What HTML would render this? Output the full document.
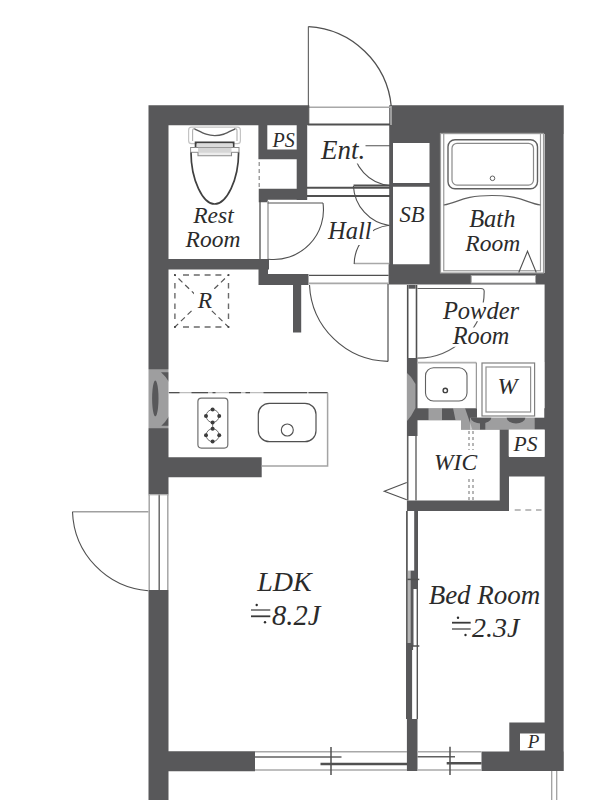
<!DOCTYPE html>
<html><head><meta charset="utf-8">
<style>
html,body{margin:0;padding:0;background:#fff;overflow:hidden}
svg{display:block}
text{font-family:"Liberation Serif",serif;font-style:italic;fill:#2b2b2b}
</style></head><body>
<svg width="600" height="800" viewBox="0 0 600 800">
<!-- ===== WALLS ===== -->
<path id="walls" fill="#58585a" d="M148.5,105.3h20v389h-20zM148.5,590h20v210h-20zM148.5,105.3h159.5v20h-159.5zM390,105.3h173.75v28.7h-173.75zM393,133h47v10h-47zM429.5,133h10.5v151.5h-10.5zM389.2,105.3h3.8v159h-3.8zM393,183h36.5v3.7h-36.5zM544.6,105.3h19v665.7h-19zM481.5,751.5h82.25v19.5h-82.25zM148.5,751.25h106.5v20h-106.5zM509.3,722.5h36v29.5h-36zM258.4,125.3h8.9v34h-8.9zM258.4,149.4h38.3v9.9h-38.3zM296.7,125.3h10.5v74.7h-10.5zM258.75,188.75h48.45v11.05h-48.45zM258.75,199h9v3.3h-9zM168.5,259h100.5v10.5h-100.5zM258.5,259h9.5v26h-9.5zM258.5,274h50v11h-50zM293,285h8.2v47.6h-8.2zM388.6,264.3h51.4v20.2h-51.4zM440,273h105v11.5h-105zM406.9,358.1h10.6v78h-10.6zM406.9,500.5h10.6v10.5h-10.6zM406.9,719h10.6v52h-10.6zM417,408.3h128v12h-128zM461,417.7h84v12h-84zM499.7,417.7h9.3v93.3h-9.3zM406.9,500.5h102.1v10.5h-102.1zM509,456.9h36v19.6h-36zM168.5,457.3h93.2v20h-93.2z"/>

<!-- white cut-outs over walls -->
<g fill="#fff">
  <!-- W area floor under washer -->
  <rect x="477" y="362" width="67.25" height="55.7"/>
  <!-- P box -->
  <rect x="520" y="733.5" width="24.8" height="17"/>
  <!-- PS right box -->
  <rect x="508.7" y="429.6" width="35.9" height="26.8"/>
</g>

<!-- ===== ENTRANCE DOOR (top) ===== -->
<g fill="none">
  <line x1="308.4" y1="26.6" x2="308.4" y2="107" stroke="#6a6a6a" stroke-width="1.2"/>
  <path d="M308.4,26.7 A88.3,88.3 0 0 1 391.3,106.7" stroke="#505050" stroke-width="1.3"/>
  <line x1="308" y1="107.3" x2="391" y2="107.3" stroke="#a8a8a8" stroke-width="1.6"/>
  <line x1="308" y1="124.6" x2="391" y2="124.6" stroke="#505050" stroke-width="2"/>
  <line x1="308.7" y1="105.3" x2="308.7" y2="125" stroke="#505050" stroke-width="1.2"/>
  <line x1="391" y1="106" x2="391" y2="125" stroke="#b0b0b0" stroke-width="1.6"/>
</g>

<!-- ===== ENT / HALL lines ===== -->
<g fill="none" stroke="#505050">
  <line x1="307" y1="187.7" x2="390" y2="187.7" stroke-width="2"/>
  <line x1="353.5" y1="185.6" x2="390" y2="185.6" stroke-width="2"/>
  <line x1="307" y1="195.9" x2="390" y2="195.9" stroke-width="2"/>
  <!-- SB upper door swing (into Ent) -->
  <line x1="353.1" y1="145.8" x2="390" y2="145.8" stroke-width="1.1"/>
  <path d="M353.1,145.8 A39.9,39.9 0 0 0 389.5,185.5" stroke-width="1.1"/>
  <!-- SB door swing into hall (upper) -->
  <path d="M353.4,186 A42.2,42.2 0 0 0 389.4,225.6" stroke-width="1.1"/>
  <!-- SB door swing into hall (lower) -->
  <line x1="354.2" y1="263.5" x2="389" y2="263.5" stroke="#a8a8a8" stroke-width="1.6"/>
  <path d="M354.2,264 A39.3,39.3 0 0 1 389.4,225.2" stroke-width="1.1"/>
  <!-- Rest room door -->
  <line x1="260" y1="200" x2="260" y2="259" stroke-width="1.3"/>
  <line x1="268" y1="201" x2="268" y2="259" stroke="#a8a8a8" stroke-width="1.6"/>
  <line x1="267.7" y1="203" x2="323" y2="203" stroke-width="1.2"/>
  <path d="M323,203 A49.7,49.7 0 0 1 268.3,259.2" stroke-width="1.1"/>
  <!-- LDK door -->
  <line x1="309" y1="275.3" x2="388.6" y2="275.3" stroke-width="1.3"/>
  <line x1="309" y1="283.4" x2="388.6" y2="283.4" stroke="#a8a8a8" stroke-width="1.8"/>
  <line x1="388" y1="284" x2="388" y2="361.4" stroke-width="1.2"/>
  <path d="M309.5,285 A80.1,80.1 0 0 0 388,361.4" stroke-width="1.1"/>
  <!-- Powder door -->
  <line x1="407.7" y1="285" x2="407.7" y2="358.1" stroke-width="1.6"/>
  <line x1="416.5" y1="285" x2="416.5" y2="358.1" stroke-width="1.6"/>
  <rect x="408.5" y="285" width="7.1" height="3.7" fill="#58585a" stroke="none"/>
  <path d="M417.5,288.5 H481 Q484.2,288.5 484.2,291.5 A66.9,66.9 0 0 1 417.3,358.2" stroke="#606060" stroke-width="1.2"/>
</g>

<!-- ===== STORAGE / SB boxes outline ===== -->

<!-- ===== BATH ===== -->
<g fill="none">
  <rect x="440.5" y="133.5" width="103" height="139.5" stroke="#9a9a9a" stroke-width="1.2"/>
  <rect x="443.75" y="133.5" width="96.75" height="137.25" stroke="#9a9a9a" stroke-width="1.2"/>
  <rect x="448" y="139.7" width="89.5" height="49" rx="7" stroke="#606060" stroke-width="1.4"/>
  <rect x="452" y="143.3" width="81.5" height="41.8" rx="5" stroke="#8a8a8a" stroke-width="1.2"/>
  <circle cx="492.5" cy="178.3" r="2.3" stroke="#606060" stroke-width="1"/>
  <path d="M443.75,205 C458,203 462,195.5 492,195.5 C522,195.5 526,203 540.5,205" stroke="#606060" stroke-width="1.2"/>
  <path d="M518.75,272.5 L527.5,251.25 L536.25,272.5" stroke="#505050" stroke-width="1.1"/>
  <rect x="471.25" y="275.5" width="64.25" height="7.5" fill="#fff" stroke="#a8a8a8" stroke-width="1"/>
</g>

<!-- ===== TOILET ===== -->
<g fill="none">
  <rect x="188.6" y="127.2" width="51.8" height="16.5" rx="3" stroke="#c4c4c4" stroke-width="1.2"/>
  <path d="M192.6,141 V131 Q192.6,128.2 195,128.6 M237,141 V131 Q237,128.2 234.6,128.6" stroke="#b0b0b0" stroke-width="1.1"/>
  <path d="M194.5,128.8 C203,133 207,135.6 214.8,135.6 C222.6,135.6 226.6,133 235.2,128.8" stroke="#5a5a5a" stroke-width="1.4"/>
  <path d="M195.6,147.2 V142.3 H233.6 V147.2" stroke="#404040" stroke-width="1.8"/>
  <rect x="197" y="143.4" width="35.5" height="3.8" fill="#dcdcdc" stroke="none"/>
  <rect x="190.6" y="147.5" width="48.4" height="4.8" fill="#fff" stroke="#8a8a8a" stroke-width="1"/>
  <rect x="198" y="147.8" width="33.5" height="4.4" fill="#d6d6d6" stroke="none"/>
  <path d="M198,152.3 V155.8 H231.5 V152.3" stroke="#8a8a8a" stroke-width="1.1" fill="#ececec"/>
  <path d="M191,152.5 C191,180 203,204 214.6,204 C226.5,204 238.6,180 238.6,152.5" stroke="#404040" stroke-width="1.7"/>
</g>

<!-- dashed rest room extension -->
<line x1="259.2" y1="162" x2="259.2" y2="190" stroke="#888" stroke-width="1.2" stroke-dasharray="4,3"/>

<!-- ===== KITCHEN ===== -->
<g fill="none">
  <!-- R box -->
  <path d="M183.0,275H189.0M183.0,327H189.0M193.8,275H199.8M193.8,327H199.8M204.6,275H210.6M204.6,327H210.6M215.4,275H221.4M215.4,327H221.4M174.9,283.0V288.5M228.5,283.0V288.5M174.9,293.0V298.5M228.5,293.0V298.5M174.9,303.5V309.0M228.5,303.5V309.0M174.9,313.5V319.0M228.5,313.5V319.0" stroke="#6a6a6a" stroke-width="1.4"/>
  <line x1="174.9" y1="275" x2="228.5" y2="327" stroke="#555" stroke-width="1.2" stroke-dasharray="5.5,3.8" stroke-dashoffset="-5"/>
  <line x1="228.5" y1="275" x2="174.9" y2="327" stroke="#555" stroke-width="1.2" stroke-dasharray="5.5,3.8" stroke-dashoffset="-5"/>
  <rect x="194" y="289" width="21" height="21" fill="#fff" stroke="none"/>
  <g fill="#404040" stroke="none"><rect x="174.0" y="274.1" width="1.8" height="1.8"/><rect x="227.6" y="274.1" width="1.8" height="1.8"/><rect x="174.0" y="326.1" width="1.8" height="1.8"/><rect x="227.6" y="326.1" width="1.8" height="1.8"/></g>
  <!-- counter -->
  <line x1="168.5" y1="392.7" x2="327.6" y2="392.7" stroke="#bdbdbd" stroke-width="1.2"/>
  <path d="M168.5,392.7H179.5M191.5,392.7H208M212.5,392.7H215.5M229,392.7H241M245.5,392.7H250M263.5,392.7H307M308.6,392.7H327.6" stroke="#505050" stroke-width="1.2"/>
  <path d="M327.6,392.7 V466 H261.7" stroke="#a4a4a4" stroke-width="1.5"/>
  <!-- IH stove -->
  <rect x="197.9" y="398.2" width="29.9" height="49.9" rx="3.5" stroke="#707070" stroke-width="1.2"/>
  <circle cx="212.6" cy="416" r="6.4" stroke="#707070" stroke-width="1"/>
  <circle cx="212.6" cy="435.2" r="6.4" stroke="#707070" stroke-width="1"/>
  <line x1="212.6" y1="422" x2="212.6" y2="429" stroke="#909090" stroke-width="1.2"/>
  <!-- sink -->
  <rect x="258.3" y="403.3" width="57.7" height="38.4" rx="11" stroke="#505050" stroke-width="1.2"/>
  <circle cx="287.3" cy="430" r="6" stroke="#505050" stroke-width="1.1"/>
</g>
<g fill="#3c3c3c"><circle cx="212.6" cy="409.6" r="2"/><circle cx="212.6" cy="422.4" r="2"/><circle cx="206.0" cy="416.0" r="2"/><circle cx="219.2" cy="416.0" r="2"/><circle cx="212.6" cy="428.8" r="2"/><circle cx="212.6" cy="441.6" r="2"/><circle cx="206.0" cy="435.2" r="2"/><circle cx="219.2" cy="435.2" r="2"/></g>

<!-- ===== LEFT DOOR ===== -->
<g fill="none">
  <line x1="149.2" y1="494.3" x2="149.2" y2="590" stroke="#a0a0a0" stroke-width="1.4"/>
  <line x1="167.8" y1="494.3" x2="167.8" y2="590" stroke="#a0a0a0" stroke-width="1.4"/>
  <line x1="159.2" y1="494.3" x2="159.2" y2="590" stroke="#606060" stroke-width="1.4"/>
  <line x1="148.5" y1="494.8" x2="168.5" y2="494.8" stroke="#a0a0a0" stroke-width="1"/>
  <line x1="72.5" y1="511.7" x2="148.5" y2="511.7" stroke="#a0a0a0" stroke-width="1.4"/>
  <path d="M72.5,511.7 A82,82 0 0 0 148.2,590.7" stroke="#505050" stroke-width="1.1"/>
</g>

<!-- ===== POWDER ROOM fixtures ===== -->
<g fill="none">
  <line x1="417.5" y1="362.6" x2="476.3" y2="362.6" stroke="#b0b0b0" stroke-width="1.8"/>
  <line x1="476.3" y1="362.6" x2="476.3" y2="408.3" stroke="#808080" stroke-width="1"/>
  <rect x="425.5" y="367.75" width="41.5" height="33.25" rx="8" stroke="#606060" stroke-width="1.1"/>
  <circle cx="445.3" cy="390.4" r="2.2" stroke="#404040" stroke-width="1.4"/>
  <!-- W -->
  <rect x="482" y="363" width="52.6" height="53" stroke="#808080" stroke-width="1.2"/>
  <rect x="486" y="367" width="44.6" height="45" stroke="#909090" stroke-width="1.2"/>
</g>

<!-- ===== WIC ===== -->
<g fill="none">
  <line x1="407.7" y1="436" x2="407.7" y2="500.5" stroke="#606060" stroke-width="1.6"/>
  <line x1="416" y1="436" x2="416" y2="500.5" stroke="#606060" stroke-width="1.4"/>
  <path d="M406.75,482.5 L384.25,491.2 L406.75,499.7" stroke="#505050" stroke-width="1.1"/>
  <line x1="469" y1="431" x2="469" y2="500" stroke="#909090" stroke-width="1.3" stroke-dasharray="3,3"/>
  <line x1="473" y1="431" x2="473" y2="500" stroke="#909090" stroke-width="1.3" stroke-dasharray="3,3"/>
  <path d="M514.7,510H520.7M525.3,510H531.3M536,510H541.5" stroke="#a8a8a8" stroke-width="1.6"/>
</g>

<!-- ===== SLIDING DOORS LDK / BED ===== -->
<g fill="none">
  <rect x="407.9" y="570.6" width="2.6" height="75.4" fill="#b4b4b4" stroke="none"/>
  <line x1="406.9" y1="511" x2="406.9" y2="719" stroke="#555" stroke-width="1.7"/>
  <line x1="417.3" y1="511" x2="417.3" y2="719" stroke="#555" stroke-width="1.4"/>
  <rect x="414.2" y="511" width="3.2" height="78" fill="#58585a" stroke="none"/>
  <rect x="410.5" y="570.6" width="6.4" height="18.4" fill="#58585a" stroke="none"/>
  <rect x="410.5" y="589" width="3" height="57" fill="#58585a" stroke="none"/>
  <rect x="406.1" y="643" width="7" height="7" fill="#58585a" stroke="none"/>
  <rect x="406.1" y="650" width="6" height="69" fill="#58585a" stroke="none"/>
  <line x1="407.4" y1="579.4" x2="419.3" y2="579.4" stroke="#505050" stroke-width="1.5"/>
  <line x1="411" y1="646" x2="419.3" y2="646" stroke="#505050" stroke-width="1.5"/>
</g>

<!-- ===== WINDOWS ===== -->
<g fill="none">
  <line x1="255" y1="751.8" x2="407" y2="751.8" stroke="#a8a8a8" stroke-width="1.4"/>
  <line x1="255" y1="770" x2="407" y2="770" stroke="#a8a8a8" stroke-width="1.4"/>
  <line x1="255" y1="757" x2="341.5" y2="757" stroke="#606060" stroke-width="1.6"/>
  <line x1="320.5" y1="764" x2="407" y2="764" stroke="#505050" stroke-width="2.4"/>
  <line x1="331" y1="747" x2="331" y2="775" stroke="#505050" stroke-width="1.5"/>
  <line x1="417.5" y1="751.8" x2="481.5" y2="751.8" stroke="#a8a8a8" stroke-width="1.4"/>
  <line x1="417.5" y1="770" x2="481.5" y2="770" stroke="#a8a8a8" stroke-width="1.4"/>
  <line x1="417.5" y1="756.7" x2="455" y2="756.7" stroke="#606060" stroke-width="1.6"/>
  <line x1="446.7" y1="763.3" x2="481.5" y2="763.3" stroke="#505050" stroke-width="2.4"/>
  <line x1="450" y1="746.7" x2="450" y2="775" stroke="#505050" stroke-width="1.5"/>
  <line x1="551.7" y1="771" x2="551.7" y2="800" stroke="#a0a0a0" stroke-width="1.3"/>
  <line x1="556.7" y1="771" x2="556.7" y2="800" stroke="#a0a0a0" stroke-width="1.3"/>
</g>


<!-- ===== WATERMARK (semi-transparent white over walls) ===== -->
<defs>
  <clipPath id="wallclip">
    <rect x="148" y="360" width="21" height="80"/>
    <rect x="406.9" y="358.1" width="10.6" height="78"/>
    <rect x="417" y="408.3" width="128" height="12"/>
    <rect x="461" y="417.7" width="84" height="12"/>
  </clipPath>
  <clipPath id="blobclip"><rect x="461" y="417.7" width="84" height="12"/></clipPath>
</defs>
<g clip-path="url(#wallclip)" fill="#fff" fill-opacity="0.42">
  <path fill-rule="evenodd" d="M148,369.2 H169 V428.2 H148 Z M161,372.2 L169,372.2 L169,382 Q165.5,376 161,372.2 Z M161.3,425.8 L169,425.8 L169,416.2 Q165.5,422 161.3,425.8 Z M155.3,380.5 a3.2,17.9 0 1 0 0.01,0 Z"/>
  <path d="M407,373 L411,377 L415.5,384 L415.5,408 L411,416 L407,421 Z"/>
  <rect x="428.5" y="408" width="13.5" height="13"/>
  <path d="M453,408 L465,408 L472.5,430 L461,430 L461,420.3 L455.5,420.3 Z"/>
  <rect x="470" y="417.7" width="64.7" height="12.5"/>
</g>
<g fill="#58585a" clip-path="url(#blobclip)">
  <ellipse cx="481" cy="417.7" rx="10.3" ry="5.8"/>
  <rect x="480" y="422" width="5.3" height="7.7"/>
  <ellipse cx="516" cy="417.7" rx="9.3" ry="5.8"/>
</g>

<!-- ===== LABEL BACKGROUNDS ===== -->
<g fill="#fff">
  <rect x="320" y="138" width="45.5" height="25.5"/>
  <rect x="327" y="221.5" width="46" height="23.5"/>
  <rect x="443" y="302.5" width="76" height="18.7"/>
  <rect x="452" y="327.5" width="58" height="19.3"/>
  <rect x="435" y="450" width="46" height="28"/>
</g>

<!-- ===== TEXT ===== -->
<text x="213.5" y="223" font-size="23.5" text-anchor="middle">Rest</text>
<text x="213" y="247" font-size="23.5" text-anchor="middle">Room</text>
<text x="272.5" y="146.7" font-size="20">PS</text>
<text x="321" y="159.3" font-size="27">Ent.</text>
<text x="328" y="239.4" font-size="24.5">Hall</text>
<text x="399.5" y="222" font-size="22.5">SB</text>
<text x="492.3" y="227.3" font-size="24.5" text-anchor="middle">Bath</text>
<text x="492.7" y="251.3" font-size="23.5" text-anchor="middle">Room</text>
<text x="481" y="319" font-size="24.5" text-anchor="middle">Powder</text>
<text x="481" y="343.6" font-size="24.3" text-anchor="middle">Room</text>
<text x="507.5" y="394" font-size="24" text-anchor="middle">W</text>
<text x="434" y="469.5" font-size="23.5">WIC</text>
<text x="513.5" y="450.5" font-size="21.5">PS</text>
<text x="205" y="307.5" font-size="23.5" text-anchor="middle">R</text>
<text x="533.5" y="748" font-size="19" text-anchor="middle">P</text>
<text x="284.5" y="591" font-size="28" text-anchor="middle">LDK</text>
<text x="484.5" y="603.5" font-size="27" text-anchor="middle">Bed Room</text>
<text x="272" y="625" font-size="28.5">8.2J</text>
<text x="472" y="637.2" font-size="28">2.3J</text>

<!-- nearly equal symbols -->
<g stroke-linecap="butt">
  <line x1="251" y1="610" x2="270.3" y2="610" stroke="#7a7a7a" stroke-width="1.8"/>
  <line x1="251" y1="616.3" x2="270.3" y2="616.3" stroke="#3a3a3a" stroke-width="1.8"/>
  <line x1="452" y1="622.7" x2="470.7" y2="622.7" stroke="#3a3a3a" stroke-width="1.8"/>
  <line x1="452" y1="629" x2="470.7" y2="629" stroke="#7a7a7a" stroke-width="1.8"/>
</g>
<g fill="#2b2b2b">
  <circle cx="256.7" cy="605" r="1.2"/><circle cx="265" cy="622.3" r="1.2"/>
  <circle cx="458" cy="617.75" r="1.2"/><circle cx="465.5" cy="635" r="1.2"/>
</g>
</svg>
</body></html>
